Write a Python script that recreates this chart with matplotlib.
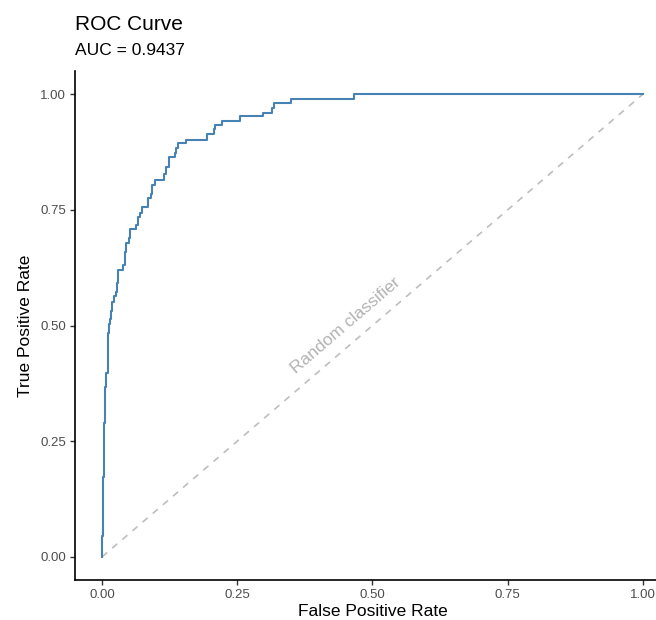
import matplotlib
matplotlib.use('Agg')
import matplotlib.pyplot as plt

plt.rcParams['font.family'] = ['Liberation Sans', 'DejaVu Sans']

# ROC staircase: at each fpr the curve rises to tpr
fpr = [0.0, 0.0, 0.002, 0.004, 0.006, 0.008, 0.011, 0.013, 0.015, 0.017,
       0.019, 0.022, 0.025, 0.028, 0.030, 0.039, 0.042, 0.044, 0.050, 0.052,
       0.062, 0.067, 0.070, 0.073, 0.085, 0.090, 0.093, 0.098, 0.114, 0.118,
       0.124, 0.135, 0.137, 0.140, 0.156, 0.194, 0.207, 0.209, 0.222, 0.255,
       0.298, 0.315, 0.318, 0.349, 0.465, 1.0]
tpr = [0.0, 0.045, 0.173, 0.289, 0.367, 0.397, 0.483, 0.504, 0.515, 0.532,
       0.550, 0.563, 0.572, 0.591, 0.620, 0.631, 0.658, 0.678, 0.690, 0.708,
       0.718, 0.735, 0.744, 0.756, 0.775, 0.785, 0.804, 0.815, 0.827, 0.843,
       0.864, 0.873, 0.884, 0.894, 0.901, 0.913, 0.924, 0.933, 0.942, 0.952,
       0.960, 0.969, 0.980, 0.990, 1.0, 1.0]
auc_value = 0.9437
ticks = [0.0, 0.25, 0.5, 0.75, 1.0]
tick_labels = ['0.00', '0.25', '0.50', '0.75', '1.00']

W, H = 656, 620
fig = plt.figure(figsize=(W / 100, H / 100), dpi=100)
ax = fig.add_axes([75 / W, 40 / H, 595 / W, 509 / H])

ax.plot([0, 1], [0, 1], color='#BEBEBE', linestyle=(0, (4, 4)), linewidth=1.2)
ax.plot(fpr, tpr, drawstyle='steps-post', color='#4682B4', linewidth=1.5)
ax.text(0.45, 0.50, 'Random classifier', color='#B3B3B3', fontsize=12.5,
        rotation=40.6, ha='center', va='center', rotation_mode='anchor')

ax.set_xlim(-0.05, 1.05)
ax.set_ylim(-0.05, 1.05)
ax.set_xticks(ticks)
ax.set_xticklabels(tick_labels)
ax.set_yticks(ticks)
ax.set_yticklabels(tick_labels)
ax.tick_params(axis='both', colors='#333333', labelcolor='#4D4D4D',
               labelsize=9.5, length=3.5, width=1, pad=3)
for s in ['top', 'right']:
    ax.spines[s].set_visible(False)
for s in ['left', 'bottom']:
    ax.spines[s].set_linewidth(1.2)
    ax.spines[s].set_color('black')

ax.set_xlabel('False Positive Rate', fontsize=12.5, color='black', labelpad=2)
ax.set_ylabel('True Positive Rate', fontsize=12.5, color='black', labelpad=5)

fig.text(75 / W, 1 - 30 / H, 'ROC Curve', fontsize=15, ha='left', va='baseline')
fig.text(75 / W, 1 - 55 / H, f'AUC = {auc_value:.4f}', fontsize=12.5,
         ha='left', va='baseline')

fig.savefig('out.png', dpi=100)
